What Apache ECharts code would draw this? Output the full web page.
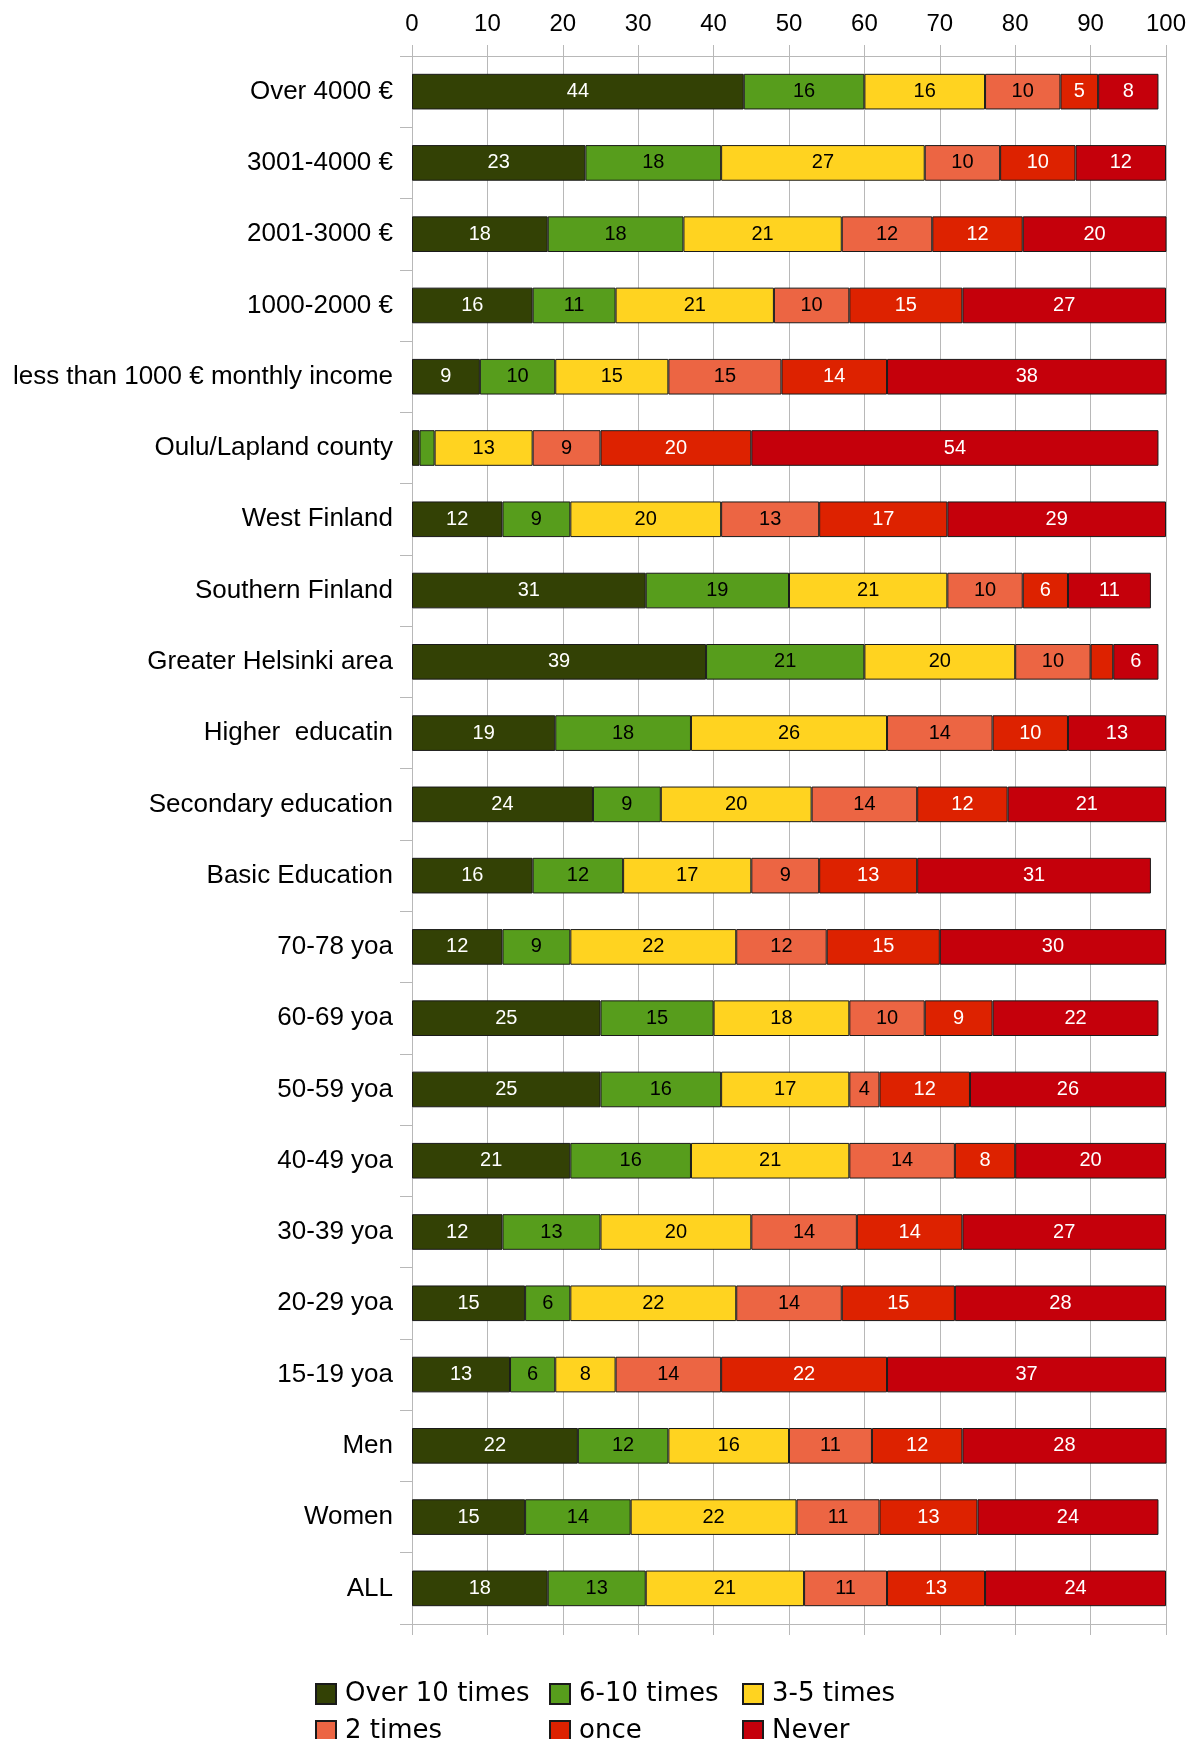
<!DOCTYPE html>
<html>
<head>
<meta charset="utf-8">
<title>Frequency by group</title>
<script src="https://cdn.jsdelivr.net/npm/echarts@6/dist/echarts.min.js"></script>
<style>
  html, body { margin: 0; padding: 0; background: #fff; }
  #chart { width: 1199px; height: 1739px; }
</style>
</head>
<body>
<div id="chart"></div>
<script>
// Respondent groups, top to bottom
const categories = [
  'Over 4000 €', '3001-4000 €', '2001-3000 €', '1000-2000 €',
  'less than 1000 € monthly income', 'Oulu/Lapland county', 'West Finland',
  'Southern Finland', 'Greater Helsinki area', 'Higher  educatin',
  'Secondary education', 'Basic Education', '70-78 yoa', '60-69 yoa',
  '50-59 yoa', '40-49 yoa', '30-39 yoa', '20-29 yoa', '15-19 yoa',
  'Men', 'Women', 'ALL'
];

// Share of respondents (%) per answer, same order as categories
const over10 = [44, 23, 18, 16, 9, 1, 12, 31, 39, 19, 24, 16, 12, 25, 25, 21, 12, 15, 13, 22, 15, 18];
const times6to10 = [16, 18, 18, 11, 10, 2, 9, 19, 21, 18, 9, 12, 9, 15, 16, 16, 13, 6, 6, 12, 14, 13];
const times3to5 = [16, 27, 21, 21, 15, 13, 20, 21, 20, 26, 20, 17, 22, 18, 17, 21, 20, 22, 8, 16, 22, 21];
const twoTimes = [10, 10, 12, 10, 15, 9, 13, 10, 10, 14, 14, 9, 12, 10, 4, 14, 14, 14, 14, 11, 11, 11];
const once = [5, 10, 12, 15, 14, 20, 17, 6, 3, 10, 12, 13, 15, 9, 12, 8, 14, 15, 22, 12, 13, 13];
const never = [8, 12, 20, 27, 38, 54, 29, 11, 6, 13, 21, 31, 30, 22, 26, 20, 27, 28, 37, 28, 24, 24];

const seriesNames = ['Over 10 times', '6-10 times', '3-5 times', '2 times', 'once', 'Never'];
const seriesValues = [over10, times6to10, times3to5, twoTimes, once, never];
const seriesColors = ['#334105', '#579d1c', '#ffd320', '#ec6543', '#dd2200', '#c5000b'];
const labelColors = ['#ffffff', '#000000', '#000000', '#000000', '#ffffff', '#ffffff'];

const xTicks = { min: 0, max: 100, interval: 10 };

const gridColor = '#b8b8b8';

const chart = echarts.init(document.getElementById('chart'), null, { renderer: 'canvas' });

const series = seriesNames.map((name, i) => ({
  name: name,
  type: 'bar',
  stack: 'total',
  xAxisIndex: 0,
  barWidth: '50%',
  data: seriesValues[i],
  itemStyle: {
    color: seriesColors[i],
    borderColor: '#1a1a1a',
    borderWidth: 1
  },
  label: {
    show: true,
    position: 'inside',
    color: labelColors[i],
    fontFamily: 'Liberation Sans, Arial, sans-serif',
    fontSize: 20,
    formatter: p => (p.value >= 4 ? String(p.value) : '')
  },
  emphasis: { disabled: true }
}));

// Legend laid out as a 3 x 2 table: one legend box per entry
const legendCols = [315, 549, 742];
const legendRows = [1681, 1718];
const legends = seriesNames.map((name, i) => ({
  data: [name],
  left: legendCols[i % 3],
  top: legendRows[Math.floor(i / 3)],
  padding: 0,
  itemWidth: 20,
  itemHeight: 20,
  itemGap: 0,
  icon: 'rect',
  selectedMode: false,
  textStyle: {
    fontFamily: 'DejaVu Sans, sans-serif',
    fontSize: 26,
    color: '#000',
    lineHeight: 26,
    padding: [0, 0, 0, 4]
  }
}));

chart.setOption({
  animation: false,
  backgroundColor: '#ffffff',
  grid: { left: 412, right: 33, top: 56, bottom: 115, containLabel: false },
  legend: legends,
  xAxis: [
    {
      type: 'value',
      position: 'top',
      min: xTicks.min,
      max: xTicks.max,
      interval: xTicks.interval,
      axisLine: { show: true, lineStyle: { color: gridColor, width: 1 } },
      axisTick: { show: true, length: 11, lineStyle: { color: gridColor } },
      axisLabel: {
        margin: 20,
        color: '#000',
        fontFamily: 'Liberation Sans, Arial, sans-serif',
        fontSize: 24
      },
      splitLine: { show: true, lineStyle: { color: gridColor, width: 1 } }
    },
    {
      type: 'value',
      position: 'bottom',
      min: xTicks.min,
      max: xTicks.max,
      interval: xTicks.interval,
      axisLine: { show: true, lineStyle: { color: gridColor, width: 1 } },
      axisTick: { show: true, length: 11, lineStyle: { color: gridColor } },
      axisLabel: { show: false },
      splitLine: { show: false }
    }
  ],
  yAxis: {
    type: 'category',
    inverse: true,
    data: categories,
    axisLine: { show: true, lineStyle: { color: gridColor, width: 1 } },
    axisTick: { show: true, length: 12, lineStyle: { color: gridColor } },
    axisLabel: {
      margin: 19,
      color: '#000',
      fontFamily: 'Liberation Sans, Arial, sans-serif',
      fontSize: 26
    },
    splitLine: { show: false }
  },
  series: series
});
</script>
</body>
</html>
